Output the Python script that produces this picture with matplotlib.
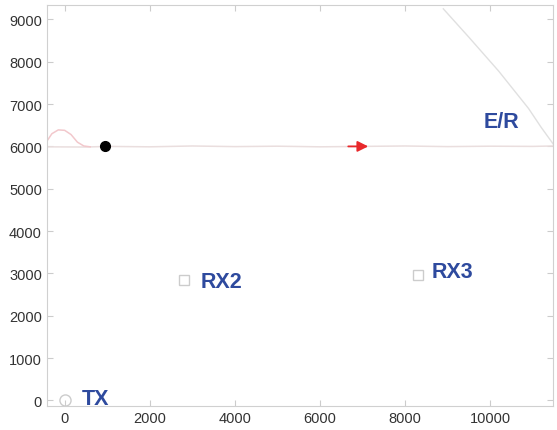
import matplotlib
matplotlib.use("Agg")
import matplotlib.pyplot as plt

# ===== data =====
tx = (0, 0)
rx_names = ["RX2", "RX3"]
rx_x = [2800, 8300]
rx_y = [2850, 2950]

# track at ~6000 (slightly wavy)
track_x = [-420, 500, 1000, 2000, 3000, 4000, 5000, 6000, 7000, 8000, 9000, 10000, 11000, 11480]
track_y = [5990, 5985, 6000, 5990, 6010, 5995, 6005, 5990, 6000, 6010, 5995, 6005, 6000, 6010]

# loop near the start
loop_x = [-420, -300, -150, 0, 150, 300, 450, 600]
loop_y = [6120, 6300, 6390, 6380, 6280, 6100, 6010, 5990]

# grey boundary line, upper right
edge_x = [8900, 9500, 10200, 10900, 11200, 11480]
edge_y = [9250, 8580, 7780, 6900, 6450, 6060]

dot = (950, 6000)
arrow_from = (6600, 6000)
arrow_to = (7200, 6000)

label_txt = ["TX", "RX2", "RX3", "E/R"]
label_x = [390, 3200, 8620, 9850]
label_y = [50, 2820, 3040, 6600]

blue = "#2e4a9e"

fig = plt.figure(figsize=(5.57, 4.31), dpi=100)
ax = fig.add_axes([0.084, 0.056, 0.909, 0.93])

ax.plot(track_x, track_y, color="#eadede", lw=1.1)
ax.plot(loop_x, loop_y, color="#f2c8cc", lw=1.1)
ax.plot(edge_x, edge_y, color="#e0e0e0", lw=1.0)

ax.plot(*dot, "o", color="black", ms=7)
ax.annotate("", xy=arrow_to, xytext=arrow_from,
            arrowprops=dict(arrowstyle="-|>", color="#e8282b", lw=1.3, mutation_scale=16))

ax.plot(*tx, "o", mfc="none", mec="#cccccc", ms=8)
ax.plot(rx_x, rx_y, "s", mfc="none", mec="#cccccc", ms=7)

for t, x, y in zip(label_txt, label_x, label_y):
    ax.text(x, y, t, color=blue, fontsize=15.5, fontweight="bold",
            family="Liberation Sans", va="center", ha="left")

ax.set_xlim(-420, 11480)
ax.set_ylim(-130, 9340)
ax.set_xticks(range(0, 10001, 2000))
ax.set_yticks(range(0, 9001, 1000))
ax.tick_params(direction="in", top=True, right=True, length=4, color="#cccccc",
               labelsize=10.5, labelcolor="#333333")
for lab in ax.get_xticklabels() + ax.get_yticklabels():
    lab.set_family("Liberation Sans")
for s in ax.spines.values():
    s.set_color("#d0d0d0")

fig.savefig("out.png", dpi=100)
